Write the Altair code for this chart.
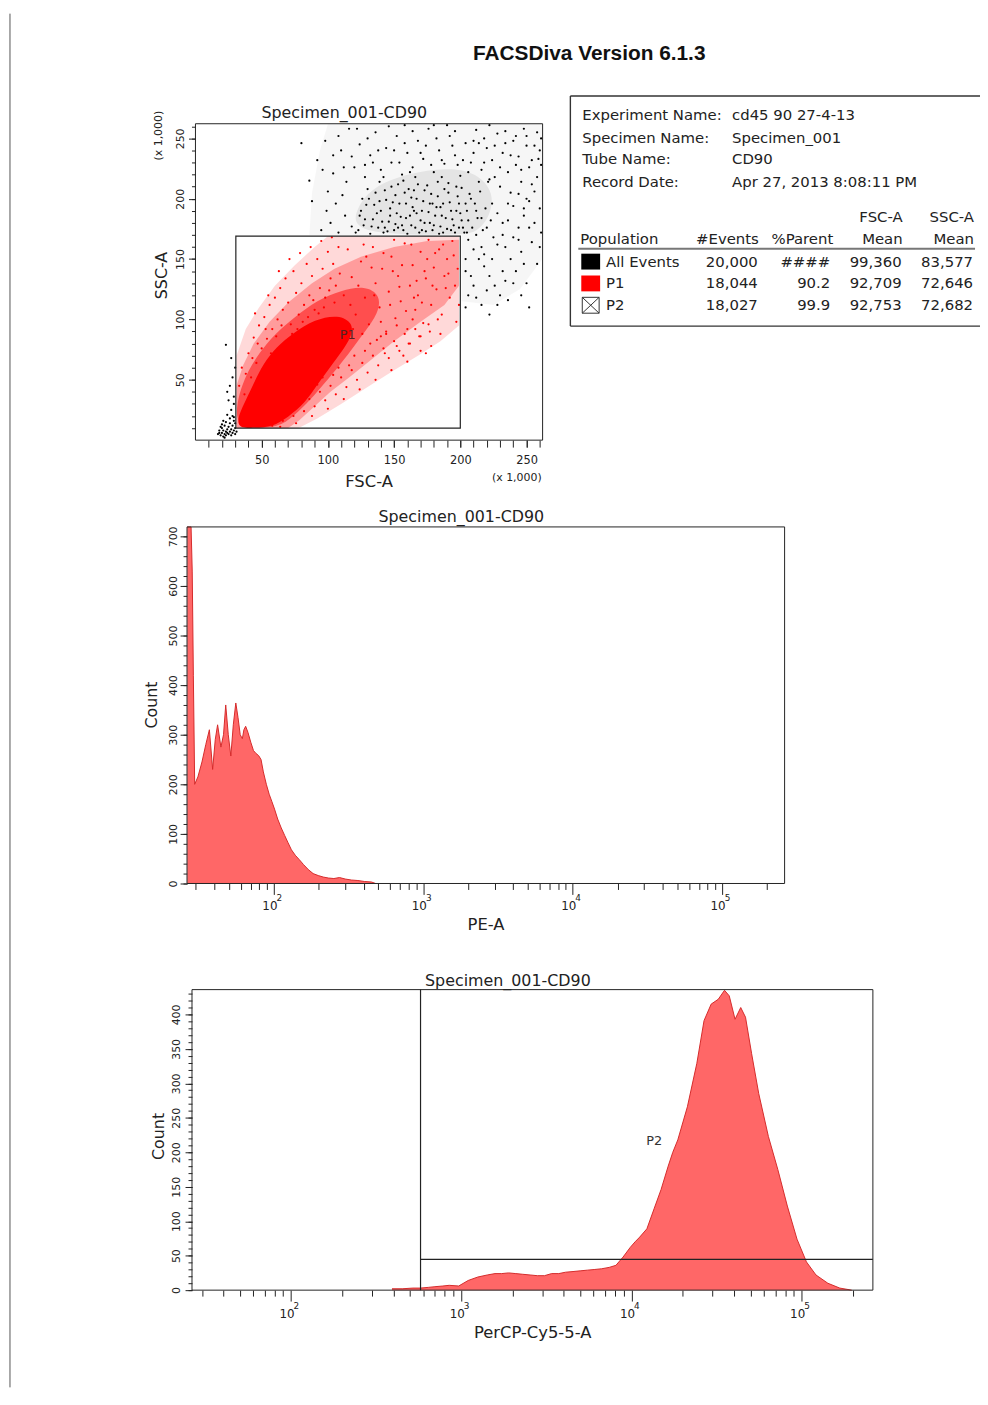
import altair as alt
import pandas as pd

# ===================== DATA =====================
# Dot plot SSC-A vs FSC-A, values in units of 1,000
black_pts = [
    (17,5),(18,8),(19,4),(20,6),(20,10),(21,3),(21,8),(22,5),(22,12),(23,7),
    (23,4),(24,9),(24,6),(25,5),(25,11),(26,7),(26,14),(27,4),(27,9),(28,6),
    (28,12),(29,8),(29,16),(30,5),(30,10),(31,7),(19,11),(18,6),(23,15),(26,18),
    (28,20),(30,14),(24,21),(27,25),(29,30),(25,33),(21,16),(22,2),(29,19),(20,13),
    (24,40),(28,52),(30,60),(26,45),(29,36),(23,79),(27,68),
    (121,172),(124,186),(127,178),(129,195),(132,171),(134,183),(136,205),(138,176),
    (140,190),(142,172),(144,199),(146,181),(148,210),(150,174),(152,188),(154,196),
    (156,178),(158,205),(160,171),(162,186),(164,193),(166,176),(168,212),(170,182),
    (172,198),(174,173),(176,189),(178,204),(180,178),(182,193),(184,171),(186,186),
    (188,208),(190,175),(192,197),(194,183),(196,172),(198,202),(200,188),(202,176),
    (204,196),(206,182),(130,208),(139,214),(147,192),(153,176),(157,215),(163,201),
    (167,188),(173,207),(177,180),(183,214),(187,196),(193,174),(197,190),(201,209),
    (205,172),(126,200),(143,176),(159,184),(171,174),(185,177),(199,176),(135,195),
    (151,203),(165,207),(179,196),(191,213),
    (95,174),(102,180),(108,172),(113,186),(118,177),(99,190),(106,196),(111,203),
    (92,232),(98,248),(104,221),(110,240),(116,258),(120,226),(124,245),(128,218),
    (132,236),(136,255),(140,224),(144,242),(148,230),(152,252),(156,220),(160,238),
    (164,226),(168,248),(172,233),(176,258),(180,222),(184,240),(188,229),(192,252),
    (196,236),(200,219),(204,246),(208,230),(212,257),(216,224),(220,242),(224,232),
    (228,254),(232,238),(236,222),(240,248),(244,235),(248,258),(252,226),(256,244),
    (259,233),(261,250),(260,240),(258,255),(226,218),(214,214),(230,210),(238,205),
    (246,214),(250,200),(118,235),(134,230),(150,240),(166,218),(182,250),(198,228),
    (218,250),(234,246),(242,228),(254,212),(112,226),(146,260),(174,244),(210,238),
    (222,261),(190,261),(158,261),(86,215),(80,246),(100,206),(88,198),
    (208,200),(212,190),(216,184),(220,176),(224,196),(228,188),(232,170),(236,182),
    (240,194),(244,176),(248,186),(252,198),(256,180),(260,192),(206,166),(210,158),
    (214,150),(218,144),(222,136),(226,128),(230,120),(234,160),(238,150),(242,140),
    (246,156),(250,130),(254,164),(258,146),(261,172),(210,128),(216,112),(222,104),
    (204,140),(206,120),(228,162),(236,116),(244,166),
    (123,174),(125,190),(128,183),(131,200),(133,177),(137,188),(139,198),(141,181),
    (143,207),(145,173),(147,186),(149,197),(151,179),(153,212),(155,185),(157,174),
    (159,196),(161,208),(163,178),(165,190),(167,200),(169,172),(171,190),(173,180),
    (175,211),(177,196),(179,174),(181,186),(183,202),(185,193),(187,172),(189,184),
    (191,205),(193,190),(195,178),(197,210),(199,196),(201,182),(203,172),(205,190),
    (207,204),(209,176),(211,196),(213,184),(215,206),(217,174),(219,192),(221,214),
    (223,182),(225,168),
    (128,228),(138,240),(142,218),(154,230),(158,246),(162,222),(170,238),(178,228),
    (186,218),(194,244),(202,232),(206,222),(214,246),(218,230),(222,216),(230,226),
    (238,236),(246,224),(250,244),(254,232),(258,218),(261,228),(226,244),(234,256),
    (242,252),(196,256),(180,261),(164,256),(130,250),(108,252),(122,258),(96,224),
    (104,236),(114,214),(186,232),(210,248),(250,252),(244,204),(236,196),(248,192),
    (232,180),(240,168),(252,176),(256,206),(260,160),(248,146),(240,130),(232,140),
    (224,150),(216,160),(212,170),
    (204,110),(212,118),(220,124),(228,112),(234,132),(246,120),(252,110),(204,150),
    (208,136),(218,154),
]
red_pts = [
    (112,120),(118,135),(121,104),(125,148),(128,118),(131,96),(134,160),(136,130),
    (139,110),(141,142),(144,88),(146,123),(148,152),(151,101),(153,136),(155,115),
    (158,163),(160,92),(162,128),(164,145),(166,108),(168,120),(170,156),(172,97),
    (174,134),(176,166),(178,112),(180,143),(182,125),(184,158),(186,104),(188,136),
    (190,150),(192,118),(194,165),(196,128),(198,142),(199,112),(115,158),(119,92),
    (123,128),(127,162),(133,143),(137,83),(142,155),(147,112),(150,166),(156,145),
    (159,107),(163,162),(167,132),(171,114),(175,150),(179,128),(183,100),(187,162),
    (191,138),(195,153),(197,98),(185,88),(177,90),(169,86),(161,80),(152,78),
    (143,72),(157,70),(170,74),(178,78),(140,98),(126,88),(117,112),(129,152),
    (135,120),(149,140),(154,127),(165,118),(173,140),(181,155),(189,126),
    (33,45),(35,60),(37,38),(40,72),(42,52),(44,85),(46,64),(48,95),(50,76),
    (52,102),(54,84),(56,112),(58,92),(60,118),(62,100),(64,126),(66,108),(68,134),
    (70,114),(72,96),(74,140),(76,122),(78,104),(80,130),(82,112),(84,146),(86,120),
    (88,136),(90,108),(92,150),(94,126),(96,142),(98,118),(100,156),(102,134),
    (104,146),(106,128),(108,160),(38,55),(43,68),(47,80),(53,92),(57,72),(61,86),
    (65,95),(69,80),(73,88),(77,92),(81,98),(85,102),(89,116),(93,105),(97,110),
    (101,124),(105,114),(109,138),(45,105),(55,120),(63,140),(71,150),(79,155),
    (87,160),(95,165),(103,168),
    (45,12),(50,15),(55,18),(58,12),(62,22),(66,16),(70,26),(74,20),(78,30),(82,24),
    (86,34),(90,28),(94,40),(98,33),(102,45),(106,38),(110,52),(114,44),(118,58),
    (122,50),(126,64),(130,56),(134,70),(138,62),(142,76),(146,68),(150,82),(154,74),
    (158,88),(162,80),(166,92),(170,86),(174,72),(160,65),(148,58),(136,50),(124,42),
    (112,34),(100,26),(88,20),(76,14),(64,11),(120,70),(132,80),(144,90),(128,74),
    (116,62),(104,54),(92,46),(80,40),(140,86),(152,95),(164,100),(176,96),(68,30),
    (84,44),(96,52),(108,60),
]
# density contours of P1 (outline vertices, FSC/SSC x 1,000)
p1_core = [(31,10),(33,22),(38,33),(44,47),(51,63),(61,77),(74,89),(90,100),(108,104),
           (119,97),(118,86),(111,74),(102,61),(92,46),(83,31),(70,19),(58,11),(45,10)]
p1_dense = [(31,10),(31,28),(34,42),(40,58),(48,72),(60,88),(75,102),(92,116),(110,124),
            (128,128),(140,120),(138,105),(128,90),(118,75),(106,58),(95,44),(84,30),
            (72,18),(62,10)]
p1_mid = [(31,10),(31,45),(36,62),(44,80),(56,98),(70,114),(88,130),(105,142),(125,152),
          (150,160),(175,165),(199,166),(199,128),(188,112),(170,98),(150,82),(132,66),
          (116,52),(102,40),(90,28),(78,16),(70,10)]
p1_outer = [(31,10),(31,70),(38,92),(48,110),(60,128),(75,145),(90,160),(100,169),
            (199,169),(199,95),(185,82),(168,70),(150,58),(130,44),(110,30),(92,18),(78,10)]
# density contours of the ungated (black) events
bk_outer = [(86,170),(88,205),(94,240),(100,262),(262,262),(262,150),(245,125),
            (225,112),(201,115),(201,170)]
bk_dense = [(118,170),(121,192),(134,210),(160,221),(190,226),(212,222),(226,205),
            (222,184),(212,172),(201,170)]
p1_gate = (30.5, 200.0, 10.0, 169.0)      # x0, x1, y0, y1
p1_label = (115, 87)

# PE-A histogram (value, count)
pe_val = [26.3, 27.2, 27.9, 28.4, 28.9, 29.5, 31.0, 33.0, 35.0, 37.0,
          38.9, 40.5, 42.0, 44.2, 46.0, 47.6, 49.5, 51.5, 53.5, 55.6,
          57.5, 59.5, 61.5, 63.0, 64.7, 67.0, 70.0, 73.0, 76.0, 79.0,
          82.0, 85.0, 89.0, 93.0, 97.0, 101, 106, 112, 118, 124,
          131, 139, 148, 158, 170, 183, 198, 214, 232, 252,
          275, 300, 330, 365, 405, 450, 480]
pe_cnt = [900, 900, 900, 630, 420, 200, 215, 245, 280, 310,
          230, 290, 320, 275, 300, 360, 300, 257, 320, 364,
          335, 300, 292, 310, 317, 305, 285, 268, 262, 258,
          250, 225, 200, 180, 165, 150, 130, 112, 97, 83,
          68, 57, 48, 38, 28, 20, 16, 13, 11, 10,
          12, 9, 7, 6, 4, 3, 0]

# PerCP-Cy5-5-A histogram (value, count)
cy_val = [392, 450, 520, 577, 640, 701, 780, 850, 967, 1099,
          1251, 1423, 1580, 1726, 1900, 2094, 2300, 2540, 2800, 3083,
          3400, 3741, 4100, 4539, 5000, 5507, 6100, 6683, 7400, 8109,
          8933, 9840, 10500, 11190, 12330, 13590, 14940, 16450, 17500, 18730,
          21320, 24230, 26710, 29420, 32370, 35240, 37550, 40620, 43870, 46800,
          50850, 55990, 63770, 72460, 82420, 93910, 106700, 121400, 142600, 167500,
          196800]
cy_cnt = [2, 2, 3, 3, 4, 5, 6, 7, 6, 14,
          19, 22, 24, 24, 25, 24, 23, 22, 21, 21,
          24, 24, 26, 27, 28, 29, 30, 31, 33, 36,
          48, 62, 70, 77, 89, 118, 146, 180, 200, 218,
          266, 329, 391, 415, 422, 435, 427, 393, 410, 396,
          343, 285, 223, 175, 122, 74, 41, 22, 10, 3,
          0]
p2_gate_x = (577, 262144)
p2_gate_y = 44.6
p2_label = (13600, 216)

# statistics table
info_keys = ["Experiment Name:", "Specimen Name:", "Tube Name:", "Record Date:"]
info_vals = ["cd45 90 27-4-13", "Specimen_001", "CD90", "Apr 27, 2013 8:08:11 PM"]
pop_names = ["All Events", "P1", "P2"]
pop_events = ["20,000", "18,044", "18,027"]
pop_parent = ["####", "90.2", "99.9"]
pop_fsc = ["99,360", "92,709", "92,753"]
pop_ssc = ["83,577", "72,646", "72,682"]

# axes
lin_range = (0, 262.144)
log_range = (26.2144, 262144)
sc_major = [50, 100, 150, 200, 250]
sc_minor = list(range(10, 261, 10))
decades = [100, 1000, 10000, 100000]
exponents = ["2", "3", "4", "5"]
log_minor = [m * 10 ** k for k in range(1, 6) for m in range(2, 10)
             if log_range[0] < m * 10 ** k < log_range[1]]
h1_major = list(range(0, 701, 100))
h1_minor = list(range(0, 701, 20))
h2_major = list(range(0, 401, 50))
h2_minor = list(range(0, 431, 10))

# ===================== LAYOUT / STYLE =====================
W, H = 980, 1385
FONT = "DejaVu Sans"
INK = "#222222"
FILL = "#ff6767"
EDGE = "#d42a2a"

SX = alt.Scale(domain=list(lin_range), range=[189, 539], nice=False, zero=False)
SY = alt.Scale(domain=list(lin_range), range=[430, 111], nice=False, zero=False)
H1X = alt.Scale(type="log", domain=list(log_range), range=[180.5, 783], nice=False)
H1Y = alt.Scale(domain=[0, 719], range=[877, 517.5], nice=False, zero=False, clamp=True)
H2X = alt.Scale(type="log", domain=list(log_range), range=[185.5, 872], nice=False)
H2Y = alt.Scale(domain=[0, 436], range=[1287, 984], nice=False, zero=False, clamp=True)


def ax_bottom(values, tick, ych, labels=False, pad=7, size=11.5):
    return alt.Axis(orient="bottom", offset=ych - H, values=values, tickSize=tick,
                    tickColor=INK, labels=labels, labelFont=FONT, labelFontSize=size,
                    labelColor=INK, labelPadding=pad, labelFlush=False,
                    labelOverlap=False, domain=False, grid=False, title=None)


def ax_left(values, tick, xch, labels=False, pad=3, size=11):
    return alt.Axis(orient="left", offset=-xch, values=values, tickSize=tick,
                    tickColor=INK, labels=labels, labelFont=FONT, labelFontSize=size,
                    labelColor=INK, labelPadding=pad, labelAngle=270,
                    labelAlign="center", labelBaseline="bottom", labelFlush=False,
                    labelOverlap=False, domain=False, grid=False, title=None)


def frame(sx, sy, xd, yd, xaxis, yaxis, visible=True):
    df = pd.DataFrame({"x0": [xd[0]], "x1": [xd[1]], "y0": [yd[0]], "y1": [yd[1]]})
    mk = alt.Chart(df).mark_rect(fill="transparent", stroke=INK, strokeWidth=1,
                                 strokeOpacity=1 if visible else 0)
    return mk.encode(x=alt.X("x0:Q", scale=sx, axis=xaxis), x2="x1:Q",
                     y=alt.Y("y0:Q", scale=sy, axis=yaxis), y2="y1:Q")


def dots(pts, sx, sy, **kw):
    df = pd.DataFrame(pts, columns=["x", "y"])
    return alt.Chart(df).mark_circle(**kw).encode(
        x=alt.X("x:Q", scale=sx, axis=None), y=alt.Y("y:Q", scale=sy, axis=None))


def blob(pts, color, alpha, interp):
    df = pd.DataFrame(pts, columns=["x", "y"])
    df["i"] = range(len(df))
    return alt.Chart(df).mark_line(filled=True, fill=color, fillOpacity=alpha,
                                   strokeOpacity=0, interpolate=interp).encode(
        x=alt.X("x:Q", scale=SX, axis=None), y=alt.Y("y:Q", scale=SY, axis=None),
        order="i:Q")


def notes(rows, **kw):
    df = pd.DataFrame(rows, columns=["t", "px", "py"])
    style = dict(font=FONT, color=INK, baseline="middle")
    style.update(kw)
    return alt.Chart(df).mark_text(**style).encode(
        x=alt.X("px:Q", scale=None, axis=None),
        y=alt.Y("py:Q", scale=None, axis=None),
        text="t:N")


def pix_rules(rows, **kw):
    df = pd.DataFrame(rows, columns=["a", "b", "a2", "b2"])
    return alt.Chart(df).mark_rule(**kw).encode(
        x=alt.X("a:Q", scale=None, axis=None), y=alt.Y("b:Q", scale=None, axis=None),
        x2="a2:Q", y2="b2:Q")


def pix_rects(rows, **kw):
    df = pd.DataFrame(rows, columns=["a", "b", "a2", "b2"])
    return alt.Chart(df).mark_rect(**kw).encode(
        x=alt.X("a:Q", scale=None, axis=None), y=alt.Y("b:Q", scale=None, axis=None),
        x2="a2:Q", y2="b2:Q")


def decade_labels(sx, y10, yexp):
    df = pd.DataFrame({"v": decades, "e": exponents, "b": ["10"] * len(decades)})
    base = alt.Chart(df)
    ten = base.mark_text(font=FONT, fontSize=12, color=INK, dx=-4, baseline="middle").encode(
        x=alt.X("v:Q", scale=sx, axis=None), y=alt.value(y10), text="b:N")
    ex = base.mark_text(font=FONT, fontSize=9, color=INK, dx=5.5, baseline="middle").encode(
        x=alt.X("v:Q", scale=sx, axis=None), y=alt.value(yexp), text="e:N")
    return [ten, ex]


layers = []

# page border line at the left
layers.append(alt.Chart(pd.DataFrame({"k": [0]})).mark_rule(color="#555", strokeWidth=1).encode(
    x=alt.value(2), y=alt.value(0), y2=alt.value(H)))

# ---------------- scatter ----------------
layers.append(blob(bk_outer, "#000000", 0.035, "linear-closed"))
layers.append(blob(bk_dense, "#000000", 0.07, "basis-closed"))
layers.append(blob(p1_outer, "#ff0000", 0.15, "linear-closed"))
layers.append(blob(p1_mid, "#ff0000", 0.28, "linear-closed"))
layers.append(blob(p1_dense, "#ff0000", 0.5, "basis-closed"))
layers.append(blob(p1_core, "#ff0000", 1.0, "basis-closed"))
layers.append(dots(black_pts, SX, SY, size=5, color="#000000", opacity=1))
layers.append(dots(red_pts, SX, SY, size=5, color="#ff0000", opacity=1))
g = pd.DataFrame({"x0": [p1_gate[0]], "x1": [p1_gate[1]], "y0": [p1_gate[2]], "y1": [p1_gate[3]]})
layers.append(alt.Chart(g).mark_rect(fill="transparent", stroke=INK, strokeWidth=1.2).encode(
    x=alt.X("x0:Q", scale=SX, axis=None), x2="x1:Q",
    y=alt.Y("y0:Q", scale=SY, axis=None), y2="y1:Q"))
layers.append(frame(SX, SY, lin_range, lin_range,
                    ax_bottom(sc_major, 7, 430, labels=True, pad=8),
                    ax_left(sc_major, 7, 189, labels=True, pad=3)))
layers.append(frame(SX, SY, lin_range, lin_range,
                    ax_bottom(sc_minor, 7, 430), ax_left(sc_minor, 4, 189), visible=False))
p1 = pd.DataFrame({"x": [p1_label[0]], "y": [p1_label[1]], "t": ["P1"]})
layers.append(alt.Chart(p1).mark_text(font=FONT, fontSize=13, color="#552222").encode(
    x=alt.X("x:Q", scale=SX, axis=None), y=alt.Y("y:Q", scale=SY, axis=None), text="t:N"))

# ---------------- histogram PE-A ----------------
pe = pd.DataFrame({"v": pe_val, "c": pe_cnt})
layers.append(alt.Chart(pe).mark_area(color=FILL, opacity=1,
                                      line={"color": EDGE, "strokeWidth": 1}).encode(
    x=alt.X("v:Q", scale=H1X, axis=None), y=alt.Y("c:Q", scale=H1Y, axis=None)))
layers.append(frame(H1X, H1Y, log_range, (0, 719),
                    ax_bottom(decades, 11, 877), ax_left(h1_major, 7, 180.5, labels=True, pad=2)))
layers.append(frame(H1X, H1Y, log_range, (0, 719),
                    ax_bottom(log_minor, 6, 877), ax_left(h1_minor, 4, 180.5), visible=False))
layers += decade_labels(H1X, 900, 892)

# ---------------- histogram PerCP-Cy5-5-A ----------------
cy = pd.DataFrame({"v": cy_val, "c": cy_cnt})
layers.append(alt.Chart(cy).mark_area(color=FILL, opacity=1,
                                      line={"color": EDGE, "strokeWidth": 1}).encode(
    x=alt.X("v:Q", scale=H2X, axis=None), y=alt.Y("c:Q", scale=H2Y, axis=None)))
gv = pd.DataFrame({"x": [p2_gate_x[0]], "y0": [0], "y1": [436]})
layers.append(alt.Chart(gv).mark_rule(color=INK, strokeWidth=1.2).encode(
    x=alt.X("x:Q", scale=H2X, axis=None), y=alt.Y("y0:Q", scale=H2Y, axis=None), y2="y1:Q"))
gh = pd.DataFrame({"x0": [p2_gate_x[0]], "x1": [p2_gate_x[1]], "y": [p2_gate_y]})
layers.append(alt.Chart(gh).mark_rule(color=INK, strokeWidth=1.2).encode(
    x=alt.X("x0:Q", scale=H2X, axis=None), x2="x1:Q", y=alt.Y("y:Q", scale=H2Y, axis=None)))
layers.append(frame(H2X, H2Y, log_range, (0, 436),
                    ax_bottom(decades, 11, 1287), ax_left(h2_major, 7, 185.5, labels=True, pad=4)))
layers.append(frame(H2X, H2Y, log_range, (0, 436),
                    ax_bottom(log_minor, 6, 1287), ax_left(h2_minor, 4, 185.5), visible=False))
layers += decade_labels(H2X, 1311, 1303)
p2 = pd.DataFrame({"x": [p2_label[0]], "y": [p2_label[1]], "t": ["P2"]})
layers.append(alt.Chart(p2).mark_text(font=FONT, fontSize=13, color="#333333").encode(
    x=alt.X("x:Q", scale=H2X, axis=None), y=alt.Y("y:Q", scale=H2Y, axis=None), text="t:N"))

# ---------------- titles & axis titles ----------------
layers.append(notes([("FACSDiva Version 6.1.3", 586, 41)],
                    font="Liberation Sans", fontSize=21, fontWeight="bold", align="center", color="#111111"))
layers.append(notes([("Specimen_001-CD90", 339, 100), ("Specimen_001-CD90", 457, 508),
                     ("Specimen_001-CD90", 504, 975)], fontSize=16, align="center"))
layers.append(notes([("FSC-A", 364, 472), ("PE-A", 482, 919), ("PerCP-Cy5-5-A", 529, 1330)],
                    fontSize=16.5, align="center"))
layers.append(notes([("(x 1,000)", 513, 468)], fontSize=11, align="center"))
layers.append(notes([("SSC-A", 155, 264), ("Count", 145, 697), ("Count", 152, 1132)],
                    fontSize=16, align="center", angle=270))
layers.append(notes([("(x 1,000)", 152, 123)], fontSize=11, align="center", angle=270))

# ---------------- statistics table ----------------
TX0, TY0, TY1 = 567, 83, 315
layers.append(pix_rules([(TX0, TY0, W, TY0), (TX0, TY1, W, TY1), (TX0, TY0, TX0, TY1)],
                        color="#333333", strokeWidth=1.4))
layers.append(pix_rules([(575, 237, 975, 237)], color="#777777", strokeWidth=2))
info_y = [102, 125, 147, 170]
row_y = [250, 272, 294]
layers.append(notes([(k, 579, y) for k, y in zip(info_keys, info_y)] +
                    [(v, 730, y) for v, y in zip(info_vals, info_y)] +
                    [("Population", 577, 227)] +
                    [(n, 603, y) for n, y in zip(pop_names, row_y)],
                    fontSize=15, align="left"))
layers.append(notes([("FSC-A", 902, 205), ("SSC-A", 974, 205), ("#Events", 757, 227),
                     ("%Parent", 832, 227), ("Mean", 902, 227), ("Mean", 974, 227)] +
                    [(v, 756, y) for v, y in zip(pop_events, row_y)] +
                    [(v, 829, y) for v, y in zip(pop_parent, row_y)] +
                    [(v, 901, y) for v, y in zip(pop_fsc, row_y)] +
                    [(v, 973, y) for v, y in zip(pop_ssc, row_y)],
                    fontSize=15, align="right"))
layers.append(pix_rects([(578, 242, 597, 258)], color="#000000"))
layers.append(pix_rects([(578, 264, 597, 280)], color="#ff0000"))
layers.append(pix_rects([(579, 286, 596, 302)], fill="#ffffff", stroke="#333333", strokeWidth=1))
layers.append(pix_rules([(579, 286, 596, 302), (579, 302, 596, 286)], color="#333333", strokeWidth=1))

chart = (alt.layer(*layers)
         .resolve_scale(x="independent", y="independent")
         .resolve_axis(x="independent", y="independent")
         .properties(width=W, height=H, padding=0, autosize=alt.AutoSizeParams(type="none"))
         .configure_view(strokeWidth=0))

chart.save("out.html", embed_options={"renderer": "svg", "actions": False})
